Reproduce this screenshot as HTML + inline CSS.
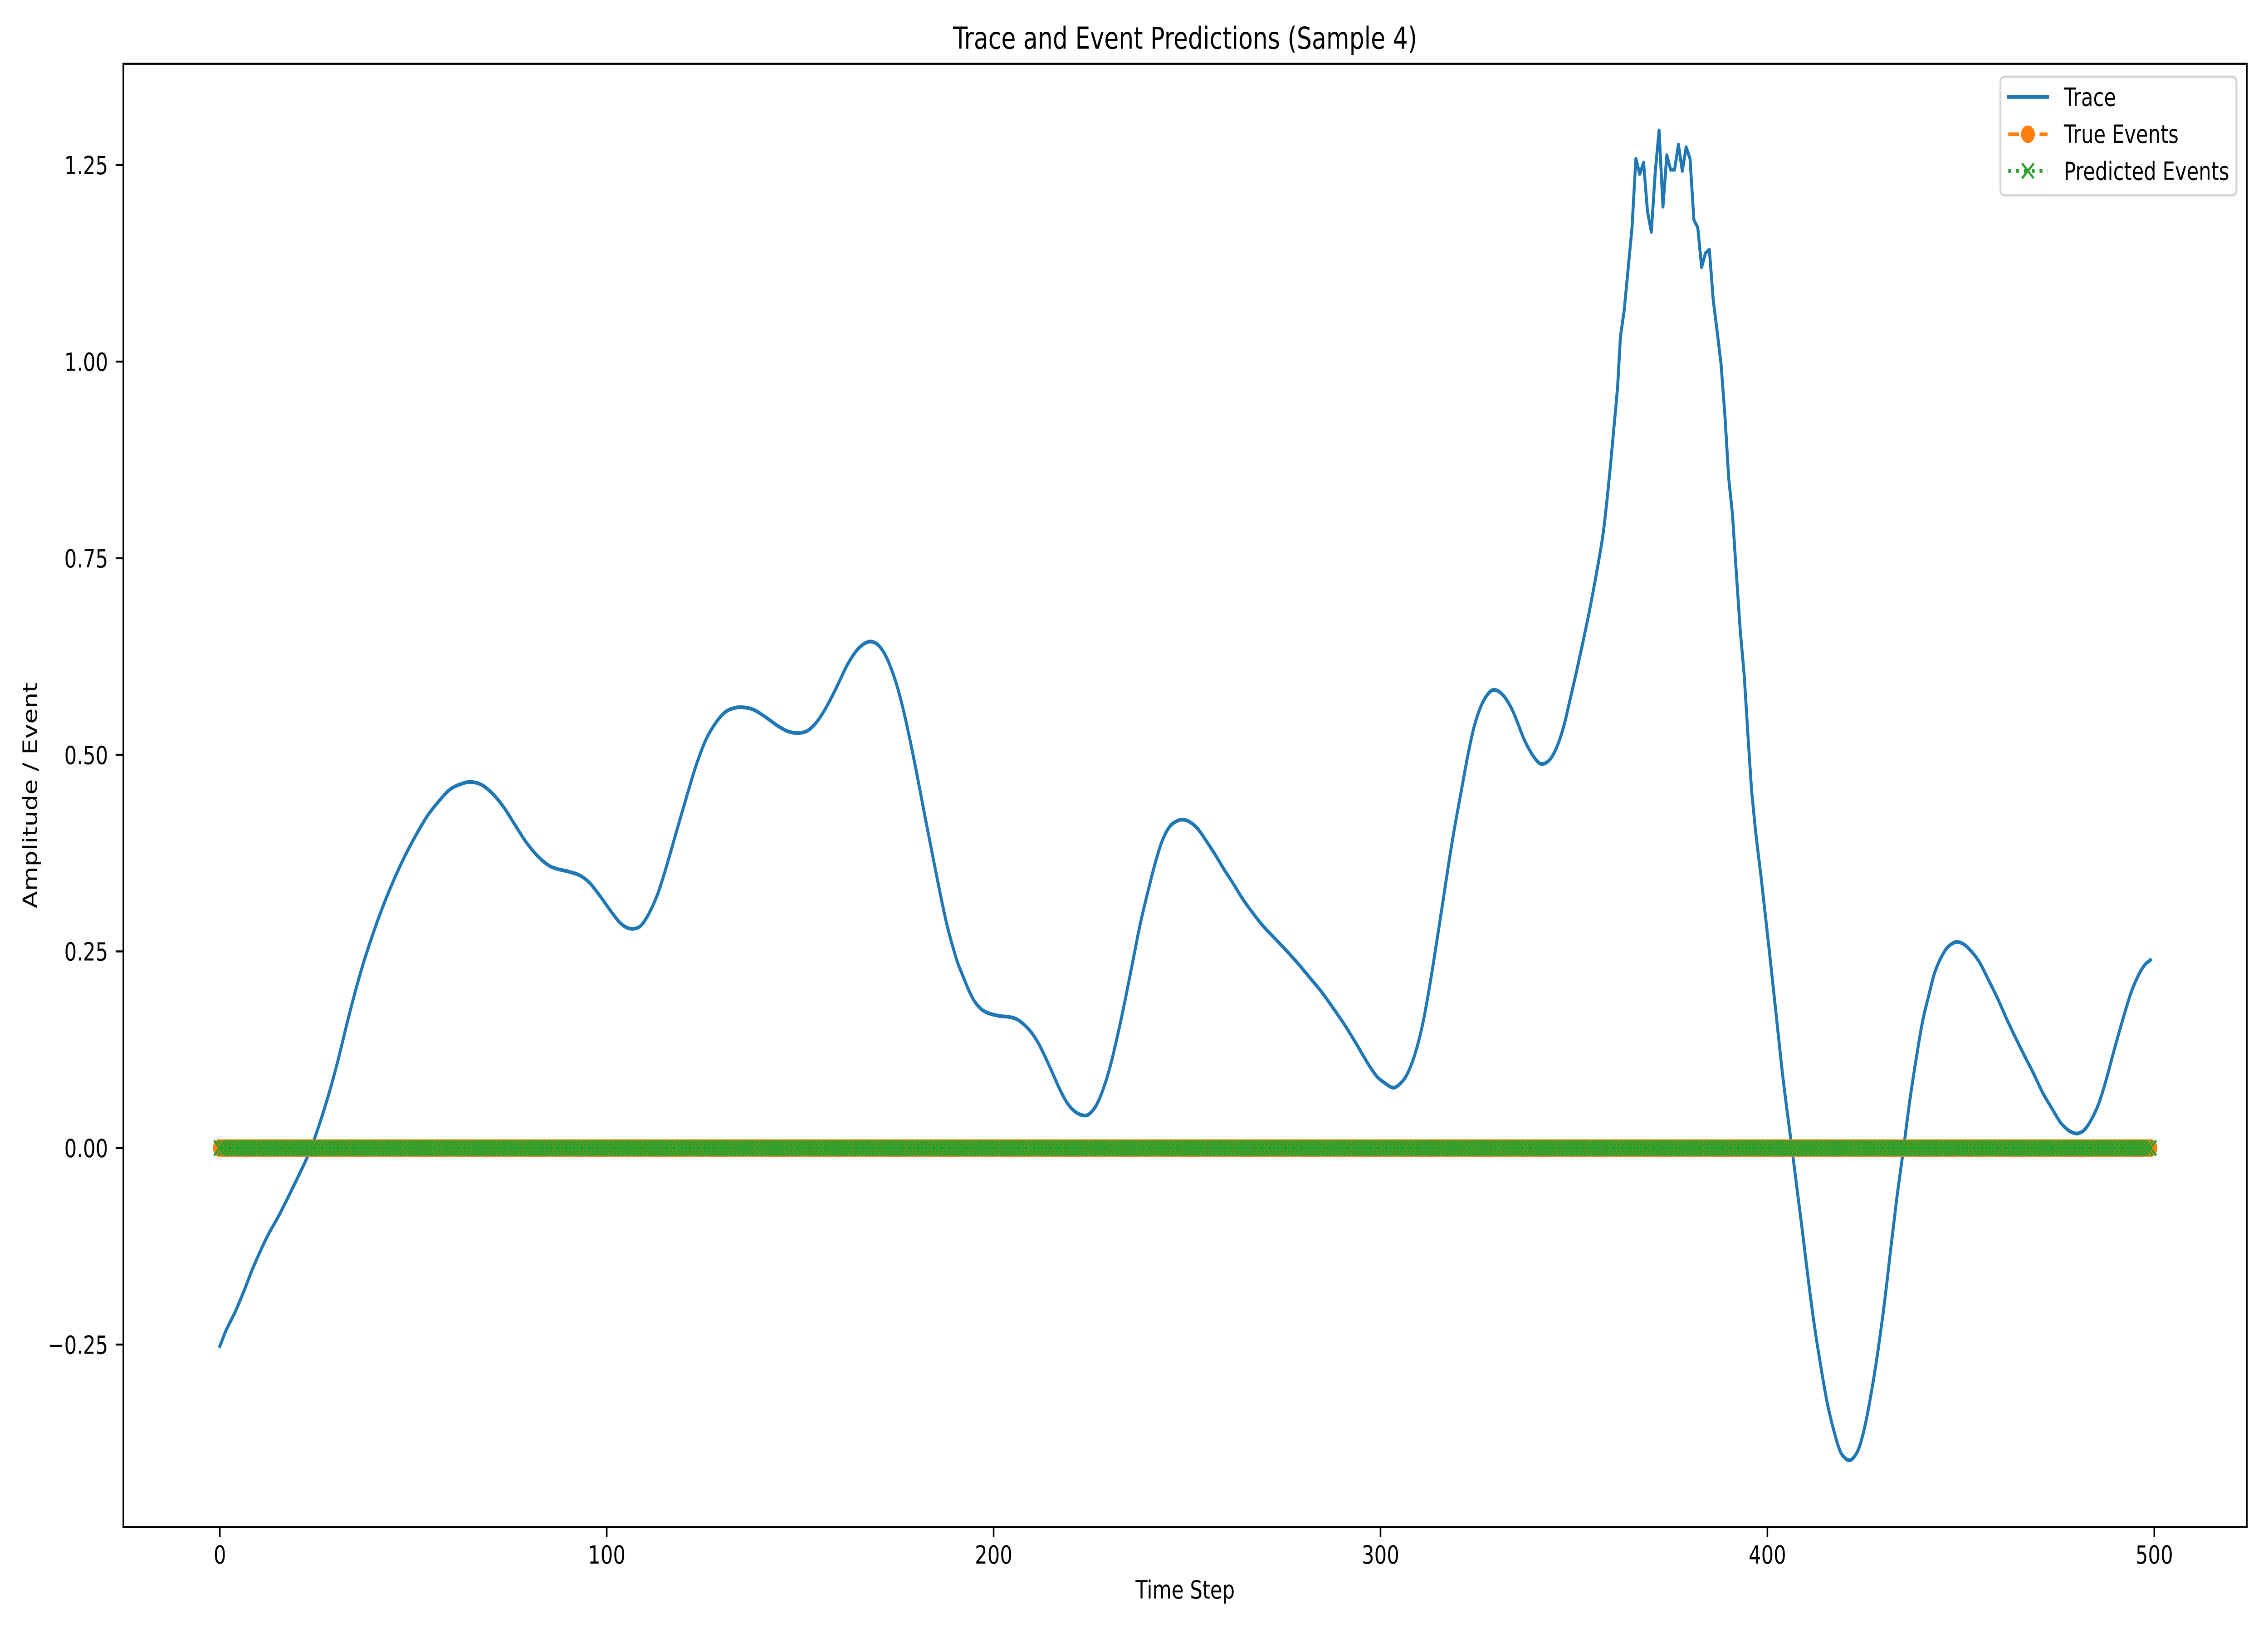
<!DOCTYPE html>
<html lang="en">
<head>
<meta charset="utf-8">
<title>Trace and Event Predictions (Sample 4)</title>
<style>
html,body{margin:0;padding:0;background:#fff;width:100%;height:100%;overflow:hidden}
svg{display:block;width:100vw;height:100vh}
text{font-family:"DejaVu Sans","Liberation Sans",sans-serif;fill:#000}
</style>
</head>
<body>
<svg id="chart" xmlns="http://www.w3.org/2000/svg" viewBox="0 0 6400 3600" preserveAspectRatio="none">
  <rect x="0" y="0" width="6400" height="3600" fill="#ffffff"/>
  <g id="series-layer"></g>
  <g id="axes-layer">
    <line x1="348" y1="138.5" x2="348" y2="3368.6" stroke="#000" stroke-width="4.44"/>
    <line x1="6340.6" y1="138.5" x2="6340.6" y2="3368.6" stroke="#000" stroke-width="4.44"/>
    <line x1="345.8" y1="140.7" x2="6342.8" y2="140.7" stroke="#000" stroke-width="4.44"/>
    <line x1="345.8" y1="3366.4" x2="6342.8" y2="3366.4" stroke="#000" stroke-width="4.44"/>
  </g>
  <text x="3344.3" y="107.5" font-size="66.67" text-anchor="middle">Trace and Event Predictions (Sample 4)</text>
  <text x="3344.3" y="3524" font-size="55.56" text-anchor="middle">Time Step</text>
  <text transform="translate(104 1753.5) rotate(-90)" font-size="55.56" text-anchor="middle">Amplitude / Event</text>
  <g>
    <rect x="5645" y="169.4" width="666" height="261.2" rx="11" ry="11" fill="#ffffff" fill-opacity="0.8" stroke="#cccccc" stroke-opacity="0.8" stroke-width="5.56"/>
    <g>
      <line x1="5667" y1="213.7" x2="5778" y2="213.7" stroke="#1f77b4" stroke-width="8.33" stroke-linecap="square"/>
      <text x="5824" y="233.5" font-size="55.56">Trace</text>
    </g>
    <g>
      <line x1="5667" y1="296" x2="5778" y2="296" stroke="#ff7f0e" stroke-width="8.33" stroke-dasharray="30.83 13.33"/>
      <circle cx="5722.5" cy="296" r="16.67" fill="#ff7f0e" stroke="#ff7f0e" stroke-width="5.56"/>
      <text x="5824" y="315" font-size="55.56">True Events</text>
    </g>
    <g>
      <line x1="5667" y1="376.7" x2="5778" y2="376.7" stroke="#2ca02c" stroke-width="8.33" stroke-dasharray="8.33 13.75"/>
      <path d="M5705.83 360.03L5739.17 393.37M5705.83 393.37L5739.17 360.03" fill="none" stroke="#2ca02c" stroke-width="5.56"/>
      <text x="5824" y="396.7" font-size="55.56">Predicted Events</text>
    </g>
  </g>
</svg>
<script>
const xTickValues = [0, 100, 200, 300, 400, 500];
const xTickLabels = ["0", "100", "200", "300", "400", "500"];
const yTickValues = [-0.25, 0, 0.25, 0.5, 0.75, 1, 1.25];
const yTickLabels = ["\u22120.25", "0.00", "0.25", "0.50", "0.75", "1.00", "1.25"];

const traceSteps = [
  0, 1.6, 4, 6.3, 8.6, 12.1, 15.4, 18.6, 22.7, 24.4,
  27.4, 30.3, 33.2, 36.1, 39, 41.9, 44.8, 47.8, 50.7, 53.6,
  56.6, 59.5, 62.4, 64.7, 67.6, 70.6, 73.5, 76.4, 79.3, 82.2,
  85.1, 87.5, 89.7, 92.9, 95.5, 98.1, 100.7, 103.2, 105.1, 106.8,
  108.7, 110.9, 113.2, 115.4, 118, 120.6, 123.1, 125.7, 128.3, 130.8,
  133.4, 135, 137.9, 141.1, 144.3, 146.9, 149.5, 152, 154.6, 157.2,
  159.8, 162.3, 164.9, 166.8, 168.4, 170.3, 172.3, 174.6, 176.5, 178.4,
  180.3, 182.2, 184.2, 186.1, 188, 190.5, 192, 193.5, 195, 196.6,
  198.1, 200, 201.9, 204.1, 206, 207.9, 209.8, 211.7, 213.6, 215.5,
  217.4, 219.3, 221.2, 223.1, 224.6, 226.5, 228.4, 230.3, 232.2, 234.1,
  236, 237.9, 239.9, 241.8, 243.6, 245.5, 247.4, 249, 250.9, 252.8,
  255.1, 257.4, 259.6, 261.9, 264.1, 266.4, 269.4, 272.5, 275.6, 278.6,
  281.6, 284.6, 287.6, 290.7, 293.8, 296.8, 299.1, 301, 302, 303.4,
  305, 306.9, 309, 311, 312.7, 314.3, 315.9, 317.6, 319.2, 320.8,
  322.5, 324.1, 325.8, 327.4, 328.8, 330, 331.1, 332.3, 334, 335.6,
  337.2, 339.2, 340.9, 341.9, 343.1, 344.3, 345.8, 347.4, 349, 350.7,
  352.3, 354, 355.6, 356.6, 357.5, 358.5, 359.5, 360.5, 360.8, 361.3,
  362, 363, 364, 365, 366, 367, 368, 369, 370, 371,
  372, 373, 374, 375, 376, 377, 378, 379, 380, 381,
  382, 383, 384, 385, 386, 387, 388, 389, 390, 391,
  392, 393, 394, 395, 395.9, 396.9, 398.6, 400.4, 402.2, 404,
  406.1, 407.4, 409, 410.6, 412.2, 413.9, 415.5, 417.2, 418.8, 420,
  421, 422.1, 423.7, 425.3, 427, 428.6, 430.3, 431.9, 433.5, 435.1,
  436.8, 438.6, 440.1, 441.7, 443.4, 445.9, 447.8, 449.2, 451, 452.9,
  454.8, 457.1, 459.5, 461.8, 464.1, 466.5, 468.8, 471.1, 473.5, 475.8,
  477.7, 479.1, 480.2, 481.9, 483.7, 485.6, 487.5, 489.3, 491.7, 494,
  495.9, 497.5, 499
];
const traceValues = [
  -0.252, -0.232, -0.208, -0.181, -0.152, -0.114, -0.0845, -0.053, -0.0105, 0.011,
  0.056, 0.107, 0.165, 0.2185, 0.264, 0.304, 0.339, 0.371, 0.398, 0.422,
  0.441, 0.456, 0.463, 0.4655, 0.462, 0.45, 0.4325, 0.41, 0.388, 0.371,
  0.359, 0.3545, 0.352, 0.347, 0.3376, 0.3216, 0.3037, 0.2876, 0.2805, 0.2788,
  0.2822, 0.298, 0.3235, 0.3575, 0.402, 0.446, 0.4865, 0.52, 0.5415, 0.555,
  0.56, 0.5605, 0.5575, 0.5478, 0.5365, 0.5297, 0.5277, 0.531, 0.5438, 0.5646,
  0.59, 0.6155, 0.6345, 0.642, 0.644, 0.639, 0.624, 0.5945, 0.5605, 0.5185,
  0.472, 0.423, 0.3727, 0.3258, 0.2825, 0.2385, 0.2195, 0.2015, 0.187, 0.1775,
  0.1726, 0.1695, 0.1677, 0.1666, 0.1637, 0.1568, 0.1467, 0.132, 0.113, 0.0922,
  0.0716, 0.0553, 0.0457, 0.0416, 0.0428, 0.054, 0.076, 0.107, 0.1467, 0.1908,
  0.238, 0.285, 0.3265, 0.363, 0.391, 0.4086, 0.4158, 0.4175, 0.414, 0.4057,
  0.3895, 0.372, 0.354, 0.3365, 0.3188, 0.3027, 0.2837, 0.2675, 0.2514, 0.235,
  0.2173, 0.1995, 0.179, 0.1568, 0.132, 0.107, 0.0907, 0.083, 0.0795, 0.0766,
  0.0815, 0.0939, 0.121, 0.16, 0.206, 0.255, 0.306, 0.361, 0.409, 0.452,
  0.4975, 0.534, 0.56, 0.575, 0.582, 0.582, 0.5785, 0.572, 0.5577, 0.5387,
  0.5187, 0.5005, 0.49, 0.4884, 0.4908, 0.4975, 0.5127, 0.537, 0.5703, 0.6067,
  0.643, 0.683, 0.725, 0.7525, 0.78, 0.822, 0.871, 0.9257, 0.9405, 0.969,
  1.031, 1.066, 1.118, 1.17, 1.258, 1.2385, 1.253, 1.191, 1.165, 1.2405,
  1.294, 1.197, 1.2625, 1.244, 1.244, 1.276, 1.2425, 1.2727, 1.258, 1.18,
  1.1707, 1.12, 1.138, 1.1424, 1.0783, 1.0387, 0.9978, 0.9329, 0.8519, 0.804,
  0.7286, 0.6569, 0.6017, 0.5227, 0.455, 0.405, 0.3345, 0.2548, 0.1724, 0.0902,
  0.009, -0.042, -0.104, -0.1688, -0.2277, -0.2805, -0.325, -0.36, -0.3855, -0.394,
  -0.397, -0.3947, -0.381, -0.3515, -0.307, -0.257, -0.195, -0.1276, -0.062, -0.004,
  0.06, 0.118, 0.1608, 0.194, 0.2254, 0.251, 0.26, 0.262, 0.2583, 0.249,
  0.2364, 0.2142, 0.1902, 0.1646, 0.1406, 0.1168, 0.0947, 0.0708, 0.0506, 0.0322,
  0.0229, 0.0193, 0.0185, 0.0229, 0.0358, 0.056, 0.0855, 0.1187, 0.1608, 0.1977,
  0.2196, 0.2326, 0.239
];

const trueEvents = [
  0,0,0,0,0,0,0,0,0,0,0,0,0,0,0,0,0,0,0,0,0,0,0,0,0,0,0,0,0,0,0,0,0,0,0,0,0,0,0,0,0,0,0,0,0,0,0,0,0,0,
  0,0,0,0,0,0,0,0,0,0,0,0,0,0,0,0,0,0,0,0,0,0,0,0,0,0,0,0,0,0,0,0,0,0,0,0,0,0,0,0,0,0,0,0,0,0,0,0,0,0,
  0,0,0,0,0,0,0,0,0,0,0,0,0,0,0,0,0,0,0,0,0,0,0,0,0,0,0,0,0,0,0,0,0,0,0,0,0,0,0,0,0,0,0,0,0,0,0,0,0,0,
  0,0,0,0,0,0,0,0,0,0,0,0,0,0,0,0,0,0,0,0,0,0,0,0,0,0,0,0,0,0,0,0,0,0,0,0,0,0,0,0,0,0,0,0,0,0,0,0,0,0,
  0,0,0,0,0,0,0,0,0,0,0,0,0,0,0,0,0,0,0,0,0,0,0,0,0,0,0,0,0,0,0,0,0,0,0,0,0,0,0,0,0,0,0,0,0,0,0,0,0,0,
  0,0,0,0,0,0,0,0,0,0,0,0,0,0,0,0,0,0,0,0,0,0,0,0,0,0,0,0,0,0,0,0,0,0,0,0,0,0,0,0,0,0,0,0,0,0,0,0,0,0,
  0,0,0,0,0,0,0,0,0,0,0,0,0,0,0,0,0,0,0,0,0,0,0,0,0,0,0,0,0,0,0,0,0,0,0,0,0,0,0,0,0,0,0,0,0,0,0,0,0,0,
  0,0,0,0,0,0,0,0,0,0,0,0,0,0,0,0,0,0,0,0,0,0,0,0,0,0,0,0,0,0,0,0,0,0,0,0,0,0,0,0,0,0,0,0,0,0,0,0,0,0,
  0,0,0,0,0,0,0,0,0,0,0,0,0,0,0,0,0,0,0,0,0,0,0,0,0,0,0,0,0,0,0,0,0,0,0,0,0,0,0,0,0,0,0,0,0,0,0,0,0,0,
  0,0,0,0,0,0,0,0,0,0,0,0,0,0,0,0,0,0,0,0,0,0,0,0,0,0,0,0,0,0,0,0,0,0,0,0,0,0,0,0,0,0,0,0,0,0,0,0,0,0
];
const predictedEvents = [
  0,0,0,0,0,0,0,0,0,0,0,0,0,0,0,0,0,0,0,0,0,0,0,0,0,0,0,0,0,0,0,0,0,0,0,0,0,0,0,0,0,0,0,0,0,0,0,0,0,0,
  0,0,0,0,0,0,0,0,0,0,0,0,0,0,0,0,0,0,0,0,0,0,0,0,0,0,0,0,0,0,0,0,0,0,0,0,0,0,0,0,0,0,0,0,0,0,0,0,0,0,
  0,0,0,0,0,0,0,0,0,0,0,0,0,0,0,0,0,0,0,0,0,0,0,0,0,0,0,0,0,0,0,0,0,0,0,0,0,0,0,0,0,0,0,0,0,0,0,0,0,0,
  0,0,0,0,0,0,0,0,0,0,0,0,0,0,0,0,0,0,0,0,0,0,0,0,0,0,0,0,0,0,0,0,0,0,0,0,0,0,0,0,0,0,0,0,0,0,0,0,0,0,
  0,0,0,0,0,0,0,0,0,0,0,0,0,0,0,0,0,0,0,0,0,0,0,0,0,0,0,0,0,0,0,0,0,0,0,0,0,0,0,0,0,0,0,0,0,0,0,0,0,0,
  0,0,0,0,0,0,0,0,0,0,0,0,0,0,0,0,0,0,0,0,0,0,0,0,0,0,0,0,0,0,0,0,0,0,0,0,0,0,0,0,0,0,0,0,0,0,0,0,0,0,
  0,0,0,0,0,0,0,0,0,0,0,0,0,0,0,0,0,0,0,0,0,0,0,0,0,0,0,0,0,0,0,0,0,0,0,0,0,0,0,0,0,0,0,0,0,0,0,0,0,0,
  0,0,0,0,0,0,0,0,0,0,0,0,0,0,0,0,0,0,0,0,0,0,0,0,0,0,0,0,0,0,0,0,0,0,0,0,0,0,0,0,0,0,0,0,0,0,0,0,0,0,
  0,0,0,0,0,0,0,0,0,0,0,0,0,0,0,0,0,0,0,0,0,0,0,0,0,0,0,0,0,0,0,0,0,0,0,0,0,0,0,0,0,0,0,0,0,0,0,0,0,0,
  0,0,0,0,0,0,0,0,0,0,0,0,0,0,0,0,0,0,0,0,0,0,0,0,0,0,0,0,0,0,0,0,0,0,0,0,0,0,0,0,0,0,0,0,0,0,0,0,0,0
];

const SVG_NS = "http://www.w3.org/2000/svg";
const plotLeft = 348, plotRight = 6340.6, plotTop = 140.7, plotBottom = 3366.4;
const xDomainMin = -24.95, xDomainMax = 523.95;
const yDomainMin = -0.482, yDomainMax = 1.3787;
const jaggedStart = 361, jaggedEnd = 396;

function xScale(v) {
  return plotLeft + (v - xDomainMin) / (xDomainMax - xDomainMin) * (plotRight - plotLeft);
}
function yScale(v) {
  return plotBottom - (v - yDomainMin) / (yDomainMax - yDomainMin) * (plotBottom - plotTop);
}
function make(tag, parent) {
  const node = document.createElementNS(SVG_NS, tag);
  parent.appendChild(node);
  return node;
}
function linePath(xs, ys) {
  let d = "";
  for (let i = 0; i < xs.length; i++) {
    d += (i ? "L" : "M") + xScale(xs[i]).toFixed(2) + " " + yScale(ys[i]).toFixed(2);
  }
  return d;
}
function slopeAt(xs, ys, i) {
  const a = Math.max(i - 1, 0), b = Math.min(i + 1, xs.length - 1);
  return (yScale(ys[b]) - yScale(ys[a])) / (xScale(xs[b]) - xScale(xs[a]));
}
/* Smooth through the readings outside the noisy peak; straight segments inside it. */
function tracePath(xs, ys) {
  let d = "M" + xScale(xs[0]).toFixed(2) + " " + yScale(ys[0]).toFixed(2);
  for (let i = 1; i < xs.length; i++) {
    const x0 = xScale(xs[i - 1]), y0 = yScale(ys[i - 1]);
    const x1 = xScale(xs[i]), y1 = yScale(ys[i]);
    if (xs[i] > jaggedStart && xs[i - 1] < jaggedEnd) {
      d += "L" + x1.toFixed(2) + " " + y1.toFixed(2);
    } else {
      const h = (x1 - x0) / 3;
      d += "C" + (x0 + h).toFixed(2) + " " + (y0 + slopeAt(xs, ys, i - 1) * h).toFixed(2) + " " +
           (x1 - h).toFixed(2) + " " + (y1 - slopeAt(xs, ys, i) * h).toFixed(2) + " " +
           x1.toFixed(2) + " " + y1.toFixed(2);
    }
  }
  return d;
}

const seriesLayer = document.getElementById("series-layer");
const axesLayer = document.getElementById("axes-layer");

/* Trace */
const traceLine = make("path", seriesLayer);


traceLine.setAttribute("d", tracePath(traceSteps, traceValues));
traceLine.setAttribute("fill", "none");
traceLine.setAttribute("stroke", "#1f77b4");
traceLine.setAttribute("stroke-width", "8.33");
traceLine.setAttribute("stroke-linejoin", "round");
traceLine.setAttribute("stroke-linecap", "square");

/* True events */
const trueSteps = trueEvents.map(function (_, i) { return i; });
const trueGroup = make("g", seriesLayer);


const trueLine = make("path", trueGroup);


trueLine.setAttribute("d", linePath(trueSteps, trueEvents));
trueLine.setAttribute("fill", "none");
trueLine.setAttribute("stroke", "#ff7f0e");
trueLine.setAttribute("stroke-width", "8.33");
trueLine.setAttribute("stroke-dasharray", "30.83 13.33");
trueEvents.forEach(function (v, i) {
  const dot = make("circle", trueGroup);
  
  
  dot.setAttribute("cx", xScale(i).toFixed(2));
  dot.setAttribute("cy", yScale(v).toFixed(2));
  dot.setAttribute("r", "16.67");
  dot.setAttribute("fill", "#ff7f0e");
  dot.setAttribute("stroke", "#ff7f0e");
  dot.setAttribute("stroke-width", "5.56");
});

/* Predicted events */
const predictedSteps = predictedEvents.map(function (_, i) { return i; });
const predictedGroup = make("g", seriesLayer);


const predictedLine = make("path", predictedGroup);


predictedLine.setAttribute("d", linePath(predictedSteps, predictedEvents));
predictedLine.setAttribute("fill", "none");
predictedLine.setAttribute("stroke", "#2ca02c");
predictedLine.setAttribute("stroke-width", "8.33");
predictedLine.setAttribute("stroke-dasharray", "8.33 13.75");
predictedEvents.forEach(function (v, i) {
  const cx = xScale(i), cy = yScale(v), h = 16.67;
  const cross = make("path", predictedGroup);
  
  
  cross.setAttribute("d", "M" + (cx - h).toFixed(2) + " " + (cy - h).toFixed(2) + "L" + (cx + h).toFixed(2) + " " + (cy + h).toFixed(2) + "M" + (cx - h).toFixed(2) + " " + (cy + h).toFixed(2) + "L" + (cx + h).toFixed(2) + " " + (cy - h).toFixed(2));
  cross.setAttribute("fill", "none");
  cross.setAttribute("stroke", "#2ca02c");
  cross.setAttribute("stroke-width", "5.56");
});

/* X axis ticks */
xTickValues.forEach(function (v, i) {
  const px = xScale(v);
  const tick = make("line", axesLayer);
  
  
  tick.setAttribute("x1", px.toFixed(2));
  tick.setAttribute("x2", px.toFixed(2));
  tick.setAttribute("y1", plotBottom);
  tick.setAttribute("y2", plotBottom + 21.7);
  tick.setAttribute("stroke", "#000");
  tick.setAttribute("stroke-width", "4.44");
  const label = make("text", axesLayer);
  
  
  label.setAttribute("x", px.toFixed(2));
  label.setAttribute("y", "3447");
  label.setAttribute("font-size", "55.56");
  label.setAttribute("text-anchor", "middle");
  label.textContent = xTickLabels[i];
});

/* Y axis ticks */
yTickValues.forEach(function (v, i) {
  const py = yScale(v);
  const tick = make("line", axesLayer);
  
  
  tick.setAttribute("x1", plotLeft - 21.7);
  tick.setAttribute("x2", plotLeft);
  tick.setAttribute("y1", py.toFixed(2));
  tick.setAttribute("y2", py.toFixed(2));
  tick.setAttribute("stroke", "#000");
  tick.setAttribute("stroke-width", "4.44");
  const label = make("text", axesLayer);
  
  
  label.setAttribute("x", "305");
  label.setAttribute("y", (py + 20.3).toFixed(2));
  label.setAttribute("font-size", "55.56");
  label.setAttribute("text-anchor", "end");
  label.textContent = yTickLabels[i];
});
</script>
</body>
</html>
